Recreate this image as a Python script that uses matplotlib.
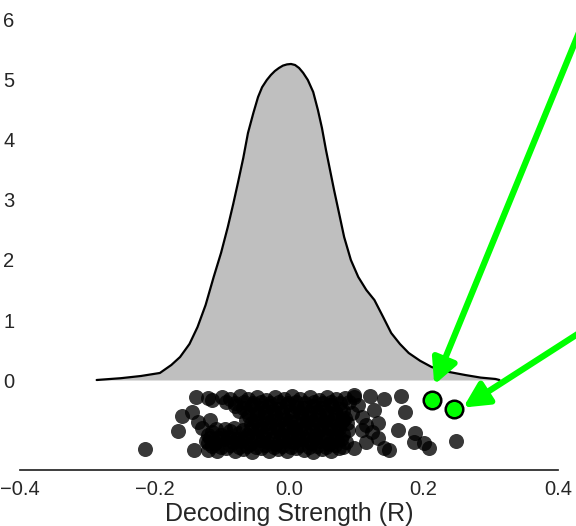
import matplotlib
matplotlib.use('Agg')
import matplotlib.pyplot as plt

# density curve
kde_x = [-0.286, -0.25, -0.22, -0.192, -0.175, -0.162, -0.148, -0.136, -0.124, -0.112,
         -0.101, -0.091, -0.083, -0.076, -0.068, -0.061, -0.053, -0.046, -0.040, -0.033,
         -0.027, -0.021, -0.015, -0.009, -0.003, 0.003, 0.009, 0.015, 0.021, 0.028,
         0.036, 0.043, 0.049, 0.055, 0.061, 0.067, 0.075, 0.082, 0.092, 0.103,
         0.115, 0.127, 0.140, 0.152, 0.165, 0.178, 0.195, 0.212, 0.235, 0.262,
         0.285, 0.307, 0.313]
kde_y = [0.0, 0.03, 0.067, 0.117, 0.25, 0.383, 0.6, 0.883, 1.25, 1.717,
         2.12, 2.55, 2.93, 3.283, 3.7, 4.117, 4.45, 4.717, 4.88, 5.0,
         5.083, 5.15, 5.2, 5.24, 5.26, 5.267, 5.25, 5.2, 5.12, 5.0,
         4.8, 4.5, 4.2, 3.833, 3.5, 3.167, 2.75, 2.383, 2.0, 1.717,
         1.5, 1.333, 1.05, 0.783, 0.6, 0.45, 0.32, 0.217, 0.14, 0.083,
         0.04, 0.017, 0.0]

# strip of individual decoding values (x) with their vertical jitter (y)
strip_x = [
    -0.114, -0.100, -0.088, -0.073, -0.061, -0.047, -0.034, -0.021, -0.008, 0.005,
    0.017, 0.031, 0.044, 0.057, 0.070, 0.083, 0.097,
    -0.094, -0.081, -0.067, -0.054, -0.041, -0.028, -0.015, -0.002, 0.011, 0.024,
    0.037, 0.050, 0.063, 0.076, 0.089,
    -0.081, -0.068, -0.055, -0.042, -0.029, -0.016, -0.003, 0.010, 0.023, 0.036,
    0.049, 0.062, 0.076,
    -0.075, -0.062, -0.049, -0.036, -0.023, -0.010, 0.003, 0.016, 0.029, 0.042,
    0.055, 0.068, 0.081,
    -0.060, -0.047, -0.034, -0.021, -0.008, 0.005, 0.018, 0.031, 0.044, 0.057,
    0.070, 0.083,
    -0.064, -0.051, -0.038, -0.025, -0.012, 0.001, 0.014, 0.027, 0.040, 0.053,
    0.066, 0.079,
    -0.057, -0.044, -0.031, -0.018, -0.005, 0.008, 0.021, 0.034, 0.047, 0.060,
    0.073, 0.086,
    -0.108, -0.095, -0.082, -0.069, -0.056, -0.043, -0.030, -0.017, -0.004, 0.009,
    0.022, 0.035, 0.048, 0.061, 0.074, 0.087,
    -0.114, -0.101, -0.088, -0.075, -0.062, -0.049, -0.036, -0.023, -0.010, 0.003,
    0.016, 0.029, 0.042, 0.055, 0.068, 0.081,
    -0.117, -0.104, -0.091, -0.078, -0.065, -0.052, -0.039, -0.026, -0.013, 0.000,
    0.013, 0.026, 0.039, 0.052, 0.065, 0.078,
    -0.124, -0.110, -0.097, -0.084, -0.071, -0.058, -0.045, -0.032, -0.019, -0.006,
    0.007, 0.020, 0.033, 0.046, 0.059, 0.072, 0.085,
    -0.114, -0.101, -0.088, -0.075, -0.062, -0.049, -0.036, -0.023, -0.010, 0.003,
    0.016, 0.029, 0.042, 0.055, 0.068, 0.081,
    -0.120, -0.107, -0.094, -0.081, -0.068, -0.055, -0.042, -0.029, -0.016, -0.003,
    0.010, 0.023, 0.036, 0.049, 0.062, 0.075,
    # left tail
    -0.214, -0.138, -0.159, -0.165, -0.144, -0.141, -0.136, -0.129, -0.121, -0.120,
    -0.117, -0.120,
    # right tail
    0.097, 0.120, 0.141, 0.127, 0.133, 0.115, 0.133, 0.142, 0.148, 0.115,
    0.097, 0.108, 0.093, 0.081, 0.102, 0.108, 0.123, 0.166, 0.172, 0.162,
    0.187, 0.186, 0.201, 0.208, 0.249,
]
strip_y = [
    -0.33, -0.28, -0.31, -0.27, -0.32, -0.29, -0.33, -0.28, -0.31, -0.27,
    -0.32, -0.29, -0.33, -0.28, -0.31, -0.30, -0.28,
    -0.37, -0.39, -0.36, -0.38, -0.37, -0.39, -0.36, -0.38, -0.37, -0.39,
    -0.36, -0.38, -0.37, -0.39, -0.36,
    -0.44, -0.47, -0.42, -0.46, -0.43, -0.48, -0.42, -0.45, -0.47, -0.43,
    -0.46, -0.42, -0.48,
    -0.52, -0.54, -0.51, -0.53, -0.52, -0.54, -0.51, -0.53, -0.52, -0.54,
    -0.51, -0.53, -0.52,
    -0.60, -0.57, -0.62, -0.58, -0.63, -0.59, -0.56, -0.62, -0.58, -0.61,
    -0.57, -0.63,
    -0.67, -0.69, -0.66, -0.68, -0.67, -0.69, -0.66, -0.68, -0.67, -0.69,
    -0.66, -0.68,
    -0.74, -0.77, -0.72, -0.76, -0.73, -0.78, -0.74, -0.71, -0.77, -0.73,
    -0.76, -0.72,
    -0.81, -0.82, -0.80, -0.83, -0.81, -0.82, -0.80, -0.83, -0.81, -0.82,
    -0.80, -0.83, -0.81, -0.82, -0.80, -0.83,
    -0.87, -0.91, -0.85, -0.89, -0.92, -0.86, -0.90, -0.85, -0.92, -0.88,
    -0.85, -0.91, -0.87, -0.92, -0.86, -0.90,
    -0.96, -0.97, -0.95, -0.98, -0.96, -0.97, -0.95, -0.98, -0.96, -0.97,
    -0.95, -0.98, -0.96, -0.97, -0.95, -0.98,
    -1.02, -1.05, -0.99, -1.04, -1.01, -1.06, -1.00, -1.03, -1.06, -1.01,
    -1.04, -0.99, -1.05, -1.02, -1.06, -1.00, -1.04,
    -1.10, -1.11, -1.09, -1.12, -1.10, -1.11, -1.09, -1.12, -1.10, -1.11,
    -1.09, -1.12, -1.10, -1.11, -1.09, -1.12,
    -1.16, -1.19, -1.14, -1.18, -1.15, -1.20, -1.14, -1.18, -1.15, -1.19,
    -1.14, -1.17, -1.20, -1.15, -1.18, -1.14,
    -1.15, -0.28, -0.60, -0.85, -0.53, -1.17, -0.70, -0.80, -0.92, -1.05,
    -0.67, -0.30,
    -0.25, -0.27, -0.32, -0.50, -0.72, -0.75, -0.97, -1.13, -1.17, -1.03,
    -1.13, -0.83, -0.55, -0.67, -0.42, -0.62, -0.87, -0.27, -0.53, -0.83,
    -0.88, -1.03, -1.05, -1.13, -1.02,
]

# highlighted values
hit_x = [0.213, 0.246]
hit_y = [-0.33, -0.48]
# where the arrows start (outside the plotting area) and end
arrow_tail_x = [0.492, 0.556]
arrow_tail_y = [7.45, 1.68]
arrow_tip_x = [0.216, 0.259]
arrow_tip_y = [-0.08, -0.46]

plt.rcParams['font.family'] = ['Liberation Sans', 'DejaVu Sans']

fig = plt.figure(figsize=(5.76, 5.26), dpi=100)
ax = fig.add_axes([20 / 576, 1 - 470 / 526, 538 / 576, 468 / 526])

ax.fill_between(kde_x, kde_y, 0, color='#bfbfbf', lw=0)
ax.plot(kde_x, kde_y, color='black', lw=1.6, solid_capstyle='round')

ax.scatter(strip_x, strip_y, s=117, color='black', alpha=0.78, lw=0)
ax.scatter(hit_x, hit_y, s=160, color='#00ff00', edgecolor='black', lw=1.8, zorder=5)

for tx, ty, hx, hy in zip(arrow_tail_x, arrow_tail_y, arrow_tip_x, arrow_tip_y):
    ax.annotate('', xy=(hx, hy), xytext=(tx, ty), annotation_clip=False,
                arrowprops=dict(arrowstyle='-|>,head_length=0.75,head_width=0.38',
                                color='#00ff00', lw=4.5, mutation_scale=20,
                                shrinkA=0, shrinkB=0))

ax.set_xlim(-0.4, 0.4)
ax.set_ylim(-1.5, 6.3)
ax.set_xticks([-0.4, -0.2, 0.0, 0.2, 0.4])
ax.set_yticks([0, 1, 2, 3, 4, 5, 6])
for side in ['top', 'right', 'left']:
    ax.spines[side].set_visible(False)
ax.spines['bottom'].set_color('#262626')
ax.spines['bottom'].set_linewidth(1.25)
ax.tick_params(axis='x', length=0, pad=7, labelsize=14.5, colors='#262626')
ax.tick_params(axis='y', length=0, pad=4, labelsize=14.5, colors='#262626')
ax.set_xlabel('Decoding Strength (R)', fontsize=18, color='#262626', labelpad=2)

fig.savefig('out.png', dpi=100)
